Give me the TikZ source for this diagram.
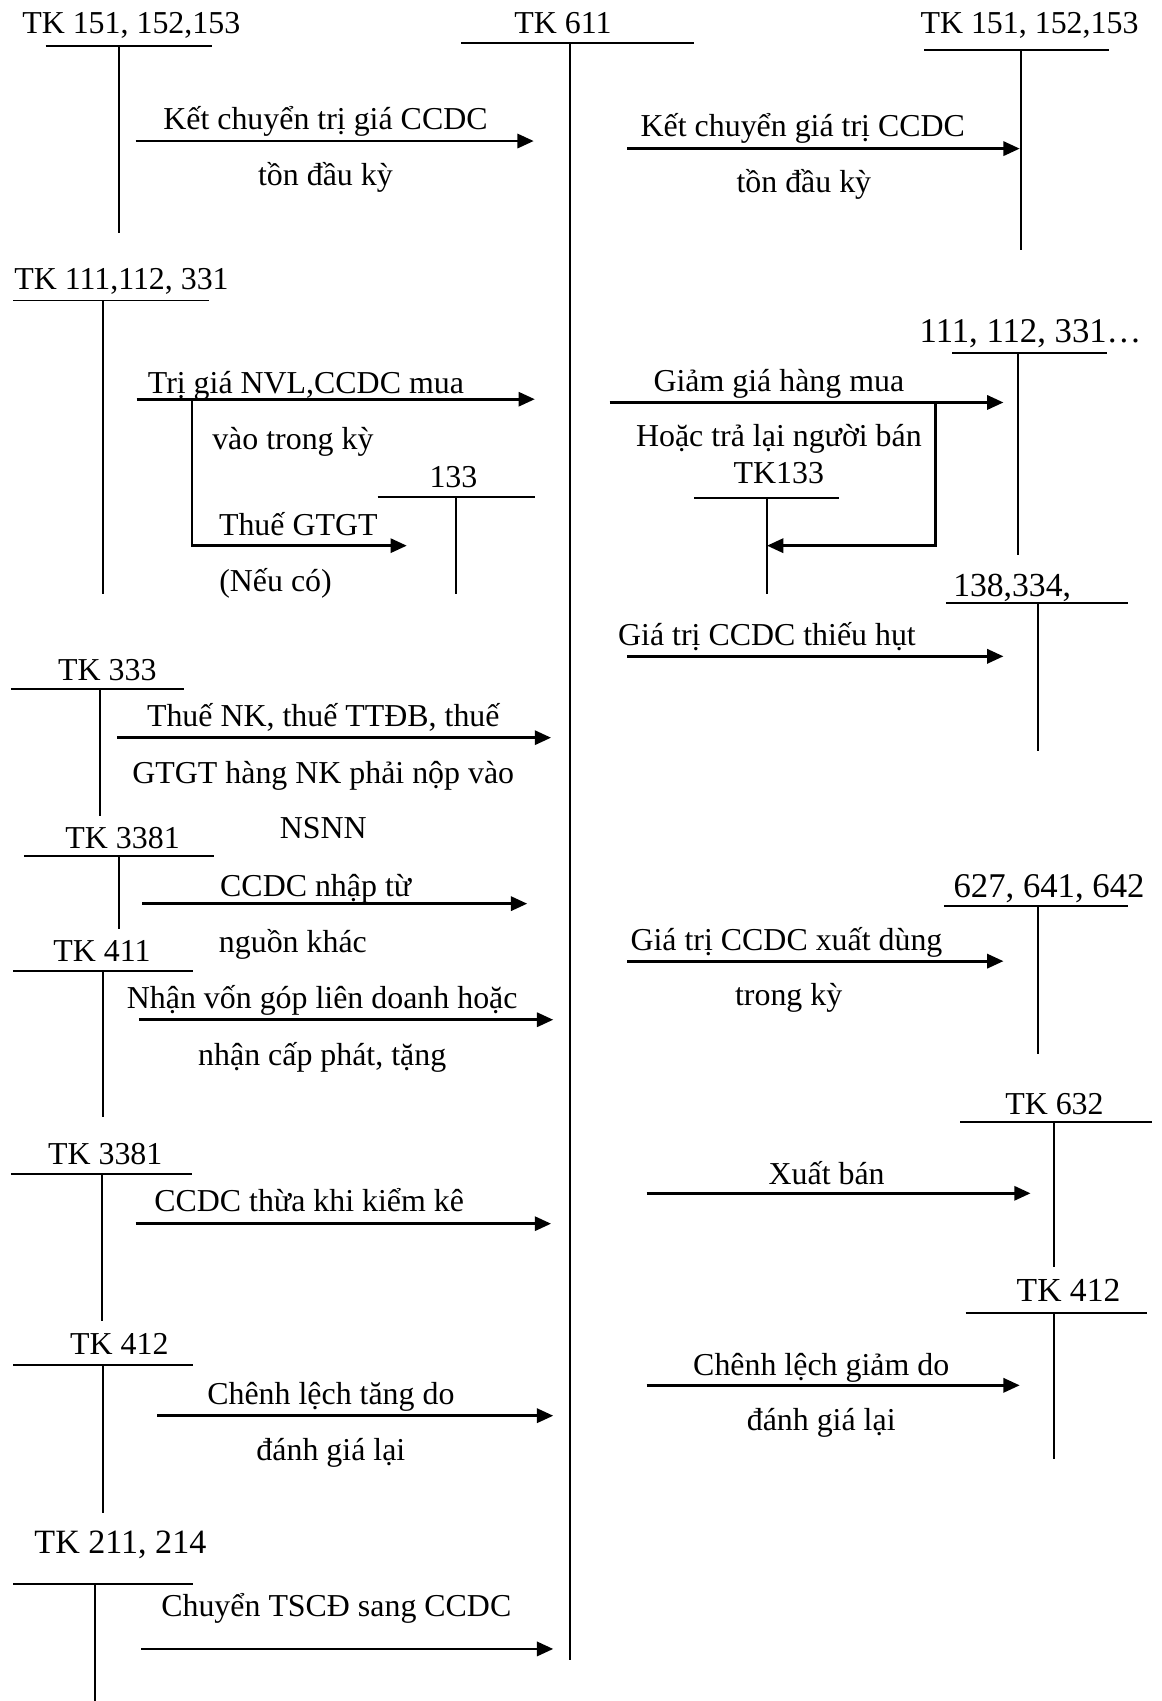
\documentclass[tikz,border=0pt]{standalone}
\usepackage{fontspec}
\setmainfont{Liberation Serif}
\usetikzlibrary{arrows.meta}
\newcommand\fs{\fontsize{14.7}{17}\selectfont}
\tikzset{
  lbl/.style={font=\fs, inner sep=0pt, anchor=base},
  tline/.style={line width=0.9pt},
  flow/.style={line width=1.3pt, -{Triangle[length=7.5pt,width=6.5pt]}},
  plain/.style={line width=1.3pt},
}
\begin{document}
\begin{tikzpicture}[x=0.5pt,y=-0.5pt]
\useasboundingbox (0,0) rectangle (1071,1568);
% ---------- TK 611 (centre) ----------
\node[lbl] (t611) at (519,31) {TK 611};
\coordinate (c611l) at (425,40); \coordinate (c611r) at (640,40);
\coordinate (c611t) at (525,40); \coordinate (c611b) at (525,1530);
\draw[tline] (c611l) -- (c611r); \draw[tline] (c611t) -- (c611b);
% ---------- Left: TK 151,152,153 ----------
\node[lbl] (tA) at (121,31) {TK 151, 152,153};
\coordinate (Al) at (42,42); \coordinate (Ar) at (195,42);
\coordinate (At) at (110,42); \coordinate (Ab) at (110,215);
\draw[tline] (Al) -- (Ar); \draw[tline] (At) -- (Ab);
\coordinate (a1s) at (125,130); \coordinate (a1e) at (492,130);
\draw[flow] (a1s) -- (a1e);
\node[lbl] (l1a) at (300,119) {Kết chuyển trị giá CCDC};
\node[lbl] (l1b) at (300,171) {tồn đầu kỳ};
% ---------- Right: TK 151,152,153 ----------
\node[lbl] (tB) at (949,31) {TK 151, 152,153};
\coordinate (Bl) at (852,46); \coordinate (Br) at (1022,46);
\coordinate (Bt) at (941,46); \coordinate (Bb) at (941,230);
\draw[tline] (Bl) -- (Br); \draw[tline] (Bt) -- (Bb);
\coordinate (a2s) at (578,137); \coordinate (a2e) at (940,137);
\draw[flow] (a2s) -- (a2e);
\node[lbl] (l2a) at (740,126) {Kết chuyển giá trị CCDC};
\node[lbl] (l2b) at (741,177) {tồn đầu kỳ};
% ---------- Left: TK 111,112,331 ----------
\node[lbl] (tC) at (112,267) {TK 111,112, 331};
\coordinate (Cl) at (12,277); \coordinate (Cr) at (193,277);
\coordinate (Ct) at (95,277); \coordinate (Cb) at (95,548);
\draw[tline] (Cl) -- (Cr); \draw[tline] (Ct) -- (Cb);
\coordinate (a3s) at (126,368); \coordinate (a3e) at (493,368);
\draw[flow] (a3s) -- (a3e);
\node[lbl] (l3a) at (282,363) {Trị giá NVL,CCDC mua};
\node[lbl] (l3b) at (270,414) {vào trong kỳ};
\coordinate (a4s) at (177,368); \coordinate (a4m) at (177,503); \coordinate (a4e) at (375,503);
\draw[plain,-{Triangle[length=7.5pt,width=6.5pt]}] (a4s) -- (a4m) -- (a4e);
\node[lbl] (l4a) at (275,494) {Thuế GTGT};
\node[lbl] (l4b) at (254,545) {(Nếu có)};
% 133
\node[lbl] (tD) at (418,449) {133};
\coordinate (Dl) at (348,458); \coordinate (Dr) at (493,458);
\coordinate (Dt) at (420,458); \coordinate (Db) at (420,548);
\draw[tline] (Dl) -- (Dr); \draw[tline] (Dt) -- (Db);
% ---------- Right: 111,112,331 ----------
\node[lbl,font=\fontsize{16}{19}\selectfont] (tE) at (950,316) {111, 112, 331…};
\coordinate (El) at (878,325); \coordinate (Er) at (1020,325);
\coordinate (Et) at (938,325); \coordinate (Eb) at (938,512);
\draw[tline] (El) -- (Er); \draw[tline] (Et) -- (Eb);
\coordinate (a5s) at (562,371); \coordinate (a5e) at (925,371);
\draw[flow] (a5s) -- (a5e);
\node[lbl] (l5a) at (718,361) {Giảm giá hàng mua};
\node[lbl] (l5b) at (718,412) {Hoặc trả lại người bán};
\node[lbl] (tF) at (718,446) {TK133};
\coordinate (a6s) at (862,371); \coordinate (a6m) at (862,503); \coordinate (a6e) at (707,503);
\draw[plain,-{Triangle[length=7.5pt,width=6.5pt]}] (a6s) -- (a6m) -- (a6e);
\coordinate (Fl) at (640,459); \coordinate (Fr) at (773,459);
\coordinate (Ft) at (707,459); \coordinate (Fb) at (707,548);
\draw[tline] (Fl) -- (Fr); \draw[tline] (Ft) -- (Fb);
% 138,334
\node[lbl,font=\fontsize{15.5}{18}\selectfont] (tG) at (933,550) {138,334,};
\coordinate (Gl) at (872,556); \coordinate (Gr) at (1040,556);
\coordinate (Gt) at (957,556); \coordinate (Gb) at (957,692);
\draw[tline] (Gl) -- (Gr); \draw[tline] (Gt) -- (Gb);
\coordinate (a7s) at (578,605); \coordinate (a7e) at (925,605);
\draw[flow] (a7s) -- (a7e);
\node[lbl] (l7a) at (707,595) {Giá trị CCDC thiếu hụt};
% ---------- Left: TK 333 ----------
\node[lbl] (tH) at (99,627) {TK 333};
\coordinate (Hl) at (10,635); \coordinate (Hr) at (170,635);
\coordinate (Ht) at (92,635); \coordinate (Hb) at (92,752);
\draw[tline] (Hl) -- (Hr); \draw[tline] (Ht) -- (Hb);
\coordinate (a8s) at (108,680); \coordinate (a8e) at (508,680);
\draw[flow] (a8s) -- (a8e);
\node[lbl] (l8a) at (298,670) {Thuế NK, thuế TTĐB, thuế};
\node[lbl] (l8b) at (298,722) {GTGT hàng NK phải nộp vào};
\node[lbl] (l8c) at (298,773) {NSNN};
% TK 3381 (1)
\node[lbl] (tI) at (113,782) {TK 3381};
\coordinate (Il) at (22,789); \coordinate (Ir) at (197,789);
\coordinate (It) at (110,789); \coordinate (Ib) at (110,856);
\draw[tline] (Il) -- (Ir); \draw[tline] (It) -- (Ib);
\coordinate (a9s) at (131,833); \coordinate (a9e) at (486,833);
\draw[flow] (a9s) -- (a9e);
\node[lbl] (l9a) at (291,826) {CCDC nhập từ};
\node[lbl] (l9b) at (270,878) {nguồn khác};
% TK 411
\node[lbl] (tJ) at (94,886) {TK 411};
\coordinate (Jl) at (12,895); \coordinate (Jr) at (178,895);
\coordinate (Jt) at (95,895); \coordinate (Jb) at (95,1030);
\draw[tline] (Jl) -- (Jr); \draw[tline] (Jt) -- (Jb);
\coordinate (a10s) at (128,940); \coordinate (a10e) at (510,940);
\draw[flow] (a10s) -- (a10e);
\node[lbl] (l10a) at (297,930) {Nhận vốn góp liên doanh hoặc};
\node[lbl] (l10b) at (297,982) {nhận cấp phát, tặng};
% ---------- Right: 627,641,642 ----------
\node[lbl,font=\fontsize{16}{19}\selectfont] (tK) at (967,827) {627, 641, 642};
\coordinate (Kl) at (870,835); \coordinate (Kr) at (1040,835);
\coordinate (Kt) at (957,835); \coordinate (Kb) at (957,972);
\draw[tline] (Kl) -- (Kr); \draw[tline] (Kt) -- (Kb);
\coordinate (a11s) at (578,886); \coordinate (a11e) at (925,886);
\draw[flow] (a11s) -- (a11e);
\node[lbl] (l11a) at (725,876) {Giá trị CCDC xuất dùng};
\node[lbl] (l11b) at (727,927) {trong kỳ};
% ---------- Left: TK 3381 (2) ----------
\node[lbl] (tL) at (97,1073) {TK 3381};
\coordinate (Ll) at (10,1082); \coordinate (Lr) at (177,1082);
\coordinate (Lt) at (94,1082); \coordinate (Lb) at (94,1218);
\draw[tline] (Ll) -- (Lr); \draw[tline] (Lt) -- (Lb);
\coordinate (a12s) at (125,1128); \coordinate (a12e) at (508,1128);
\draw[flow] (a12s) -- (a12e);
\node[lbl] (l12a) at (285,1117) {CCDC thừa khi kiểm kê};
% TK 412 left
\node[lbl] (tM) at (110,1249) {TK 412};
\coordinate (Ml) at (12,1258); \coordinate (Mr) at (178,1258);
\coordinate (Mt) at (95,1258); \coordinate (Mb) at (95,1395);
\draw[tline] (Ml) -- (Mr); \draw[tline] (Mt) -- (Mb);
\coordinate (a13s) at (145,1305); \coordinate (a13e) at (510,1305);
\draw[flow] (a13s) -- (a13e);
\node[lbl] (l13a) at (305,1295) {Chênh lệch tăng do};
\node[lbl] (l13b) at (305,1346) {đánh giá lại};
% TK 211,214
\node[lbl,font=\fontsize{15.7}{18}\selectfont] (tN) at (111,1432) {TK 211, 214};
\coordinate (Nl) at (12,1460); \coordinate (Nr) at (178,1460);
\coordinate (Nt) at (88,1460); \coordinate (Nb) at (88,1568);
\draw[tline] (Nl) -- (Nr); \draw[tline] (Nt) -- (Nb);
\coordinate (a14s) at (130,1520); \coordinate (a14e) at (510,1520);
\draw[flow] (a14s) -- (a14e);
\node[lbl] (l14a) at (310,1490) {Chuyển TSCĐ sang CCDC};
% ---------- Right: TK 632 ----------
\node[lbl] (tO) at (972,1027) {TK 632};
\coordinate (Ol) at (885,1034); \coordinate (Or) at (1062,1034);
\coordinate (Ot) at (972,1034); \coordinate (Ob) at (972,1168);
\draw[tline] (Ol) -- (Or); \draw[tline] (Ot) -- (Ob);
\coordinate (a15s) at (596,1100); \coordinate (a15e) at (950,1100);
\draw[flow] (a15s) -- (a15e);
\node[lbl] (l15a) at (762,1092) {Xuất bán};
% TK 412 right
\node[lbl,font=\fontsize{15.5}{18}\selectfont] (tP) at (985,1200) {TK 412};
\coordinate (Pl) at (890,1210); \coordinate (Pr) at (1057,1210);
\coordinate (Pt) at (972,1210); \coordinate (Pb) at (972,1345);
\draw[tline] (Pl) -- (Pr); \draw[tline] (Pt) -- (Pb);
\coordinate (a16s) at (596,1277); \coordinate (a16e) at (940,1277);
\draw[flow] (a16s) -- (a16e);
\node[lbl] (l16a) at (757,1268) {Chênh lệch giảm do};
\node[lbl] (l16b) at (757,1319) {đánh giá lại};
\end{tikzpicture}
\end{document}
